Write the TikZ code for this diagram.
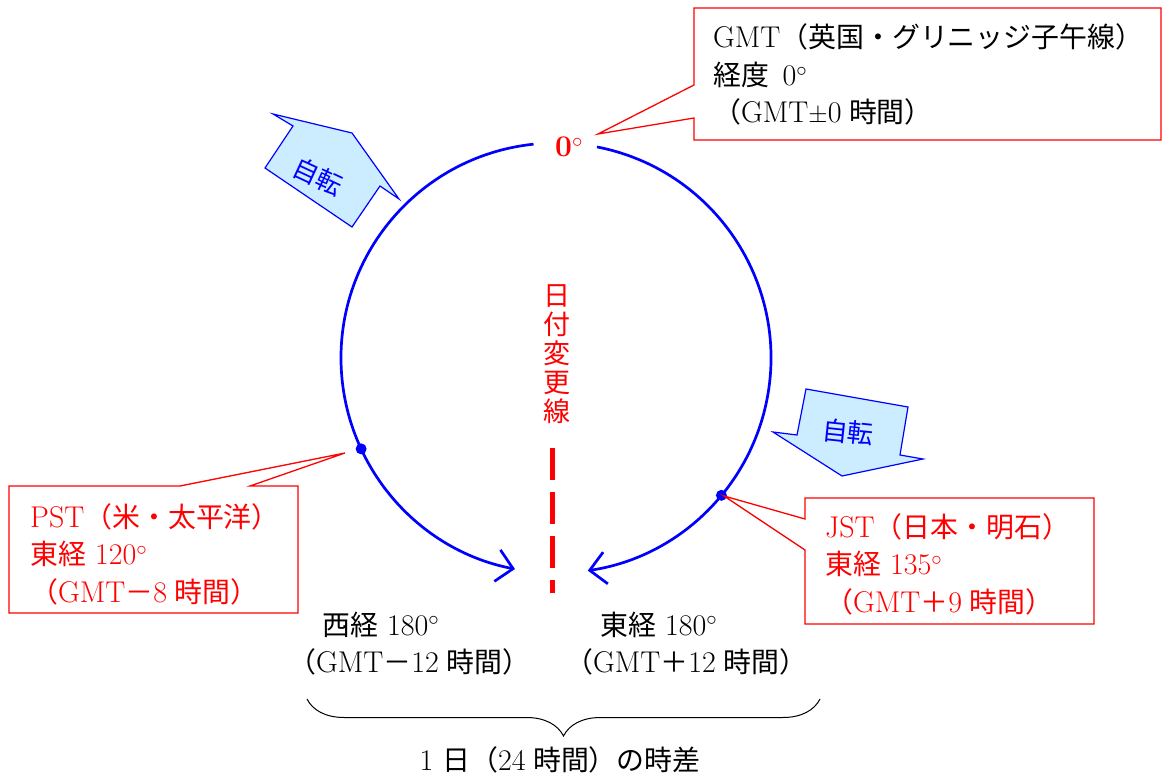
\documentclass[tikz,border=0pt]{standalone}
\usepackage{fontspec}
\newfontfamily\jpf{Noto Sans CJK JP}[Scale=0.93]
\newfontfamily\jpv{Noto Sans CJK JP}
\newcommand\J[1]{{\jpf #1}}
\usetikzlibrary{arrows.meta,decorations.pathreplacing}
\definecolor{lblue}{RGB}{204,236,255}
\begin{document}
\begin{tikzpicture}[x=1pt,y=1pt,
  txt/.style={inner sep=0pt, anchor=base west, align=left, font=\fontsize{30}{37.5}\selectfont},
  ring/.style={blue, line width=2.7pt},
  barb/.style={-{Straight Barb[length=16pt,width=32pt]}},
  redbox/.style={draw=red, fill=white, line width=1.3pt, line join=miter},
  bluecall/.style={draw=blue, fill=lblue, line width=1.2pt, line join=miter},
  bluetxt/.style={blue, inner sep=0pt, font=\jpv\fontsize{26}{26}\selectfont},
  dot/.style={circle, fill=blue, inner sep=0pt, minimum size=11pt}]
\useasboundingbox (0,0) rectangle (1165,-775);

% globe circle
\coordinate (c) at (556,-358);
\draw[ring, barb] ([shift={(96:215)}]c) arc[start angle=96, end angle=259, radius=215];
\draw[ring, barb] ([shift={(79:215)}]c) arc[start angle=79, end angle=-81.5, radius=215];
\node[dot] (pstdot) at ([shift={(205:215)}]c) {};
\node[dot] (jstdot) at ([shift={(-39.7:215)}]c) {};

% 0 degree label
\node[red, inner sep=0pt, anchor=base, font=\bfseries\fontsize{30}{30}\selectfont] (zero) at (569,-157) {0$^\circ$};

% date line
\coordinate (dl1) at (552,-448);
\coordinate (dl2) at (552,-593);
\draw[red, line width=5pt, dash pattern=on 32pt off 12pt] (dl1) -- (dl2);
\node[red, inner sep=0pt, align=center, font=\jpv\fontsize{27}{29}\selectfont] (idl) at (557,-354) {日\\付\\変\\更\\線};

% GMT callout
\coordinate (gmttip) at (598,-134);
\draw[redbox] (694,-8) -- (1161,-8) -- (1161,-140) -- (694,-140) -- (694,-118) -- (gmttip) -- (694,-85) -- cycle;
\node[txt] (gmt) at (713,-123) {GMT\J{（英国・グリニッジ子午線）}\\\J{経度}\hspace{0.45em}0$^\circ$\\\J{（}GMT$\pm$0\hspace{0.25em}\J{時間）}};

% PST callout
\coordinate (psttip) at (345,-453);
\draw[redbox] (9,-486) -- (180,-486) -- (psttip) -- (250,-486) -- (298,-486) -- (298,-613) -- (9,-613) -- cycle;
\node[txt, red] (pst) at (30,-602) {PST\J{（米・太平洋）}\\\J{東経} 120$^\circ$\\\J{（}GMT\J{－}8\hspace{0.25em}\J{時間）}};

% JST callout
\coordinate (jsttip) at (724,-496);
\draw[redbox] (805,-498) -- (1094,-498) -- (1094,-624) -- (805,-624) -- (805,-550) -- (jsttip) -- (805,-519) -- cycle;
\node[txt, red] (jst) at (825,-612) {JST\J{（日本・明石）}\\\J{東経} 135$^\circ$\\\J{（}GMT\J{＋}9\hspace{0.25em}\J{時間）}};

% rotation callouts
\draw[bluecall] (273,-114) -- (352,-133) -- (399,-199) -- (380,-186) -- (352,-227) -- (265,-168) -- (293,-126) -- cycle;
\node[bluetxt, rotate=-25] (rot1) at (318,-177) {自転};
\draw[bluecall] (806,-389) -- (908,-407) -- (900,-455) -- (923,-459) -- (842,-476) -- (773,-432) -- (797,-435) -- cycle;
\node[bluetxt, rotate=-6] (rot2) at (848,-432) {自転};

% bottom labels
\node[txt] (w1) at (322,-635) {\J{西経} 180$^\circ$};
\node[txt] (w2) at (288,-672) {\J{（}GMT\J{－}12\hspace{0.25em}\J{時間）}};
\node[txt] (e1) at (600,-635) {\J{東経} 180$^\circ$};
\node[txt] (e2) at (565,-672) {\J{（}GMT\J{＋}12\hspace{0.25em}\J{時間）}};

% brace
\coordinate (bl) at (307,-699);
\coordinate (br) at (820,-699);
\draw[line width=1pt, decorate, decoration={brace, mirror, amplitude=37pt}] (bl) -- (br);
\node[txt, anchor=base] (cap) at (560,-770) {1\hspace{0.3em}\J{日（}24\hspace{0.25em}\J{時間）の時差}};
\end{tikzpicture}
\end{document}
